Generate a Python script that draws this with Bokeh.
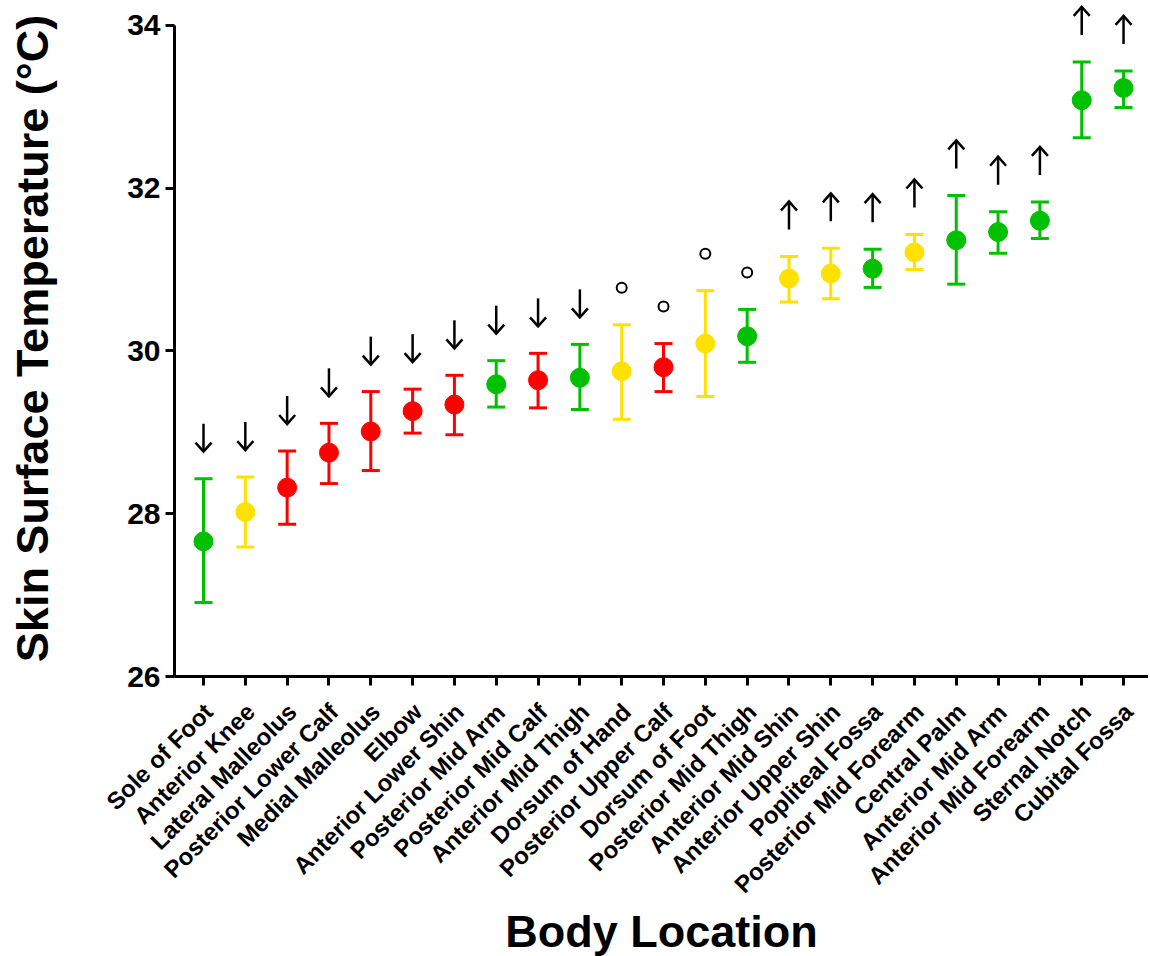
import math
from bokeh.plotting import figure
from bokeh.models import ColumnDataSource, Range1d, FixedTicker, LinearAxis
from bokeh.embed import file_html
from bokeh.resources import INLINE

# ---- data ----
names = ["Sole of Foot", "Anterior Knee", "Lateral Malleolus", "Posterior Lower Calf",
         "Medial Malleolus", "Elbow", "Anterior Lower Shin", "Posterior Mid Arm",
         "Posterior Mid Calf", "Anterior Mid Thigh", "Dorsum of Hand", "Posterior Upper Calf",
         "Dorsum of Foot", "Posterior Mid Thigh", "Anterior Mid Shin", "Anterior Upper Shin",
         "Popliteal Fossa", "Posterior Mid Forearm", "Central Palm", "Anterior Mid Arm",
         "Anterior Mid Forearm", "Sternal Notch", "Cubital Fossa"]
means = [27.66, 28.02, 28.32, 28.75, 29.01, 29.26, 29.34, 29.59, 29.64, 29.67, 29.75, 29.80,
         30.09, 30.18, 30.89, 30.95, 31.01, 31.21, 31.36, 31.46, 31.60, 33.08, 33.23]
upper = [28.43, 28.45, 28.77, 29.11, 29.50, 29.53, 29.70, 29.88, 29.97, 30.08, 30.32, 30.09,
         30.74, 30.51, 31.16, 31.26, 31.25, 31.43, 31.91, 31.71, 31.83, 33.55, 33.44]
lower = [26.91, 27.59, 27.87, 28.37, 28.53, 28.99, 28.97, 29.31, 29.30, 29.28, 29.16, 29.50,
         29.44, 29.86, 30.60, 30.64, 30.78, 31.00, 30.82, 31.20, 31.38, 32.62, 32.99]
groups = ["green", "yellow", "red", "red", "red", "red", "red", "green", "red", "green",
          "yellow", "red", "yellow", "green", "yellow", "yellow", "green", "yellow", "green",
          "green", "green", "green", "green"]
trend = ["down"] * 10 + ["circle"] * 4 + ["up"] * 9
y_ticks = [26, 28, 30, 32, 34]

# ---- styles ----
COLORS = {"green": "#00C000", "yellow": "#FFE100", "red": "#FF0000"}
FONT = "Liberation Sans"

ML = 174
FW, FH = 974, 676
PX_Y = 81.4
PX_X = 41.82
xs0 = -29.0 / PX_X
xs1 = xs0 + FW / PX_X
ys0 = 26
ys1 = ys0 + FH / PX_Y

CAP = 9.0      # half cap width px
GAP = 27.0     # gap between error bar top and arrow
LEN = 28.0     # arrow length px
HW = 8.0       # arrow head half width px
HH = 9.0       # arrow head height px
CIRC = 37.0    # circle offset px
LBL_DX = 5.0   # tick label shift px

xs = list(range(len(names)))
src = ColumnDataSource(dict(
    x=xs, mean=means, upper=upper, lower=lower,
    cl=[x - CAP / PX_X for x in xs], cr=[x + CAP / PX_X for x in xs],
    color=[COLORS[g] for g in groups],
))

p = figure(frame_width=FW, frame_height=FH, x_range=Range1d(xs0, xs1), y_range=Range1d(ys0, ys1),
           output_backend="svg", toolbar_location=None,
           min_border_left=ML, min_border_right=0, min_border_top=0, min_border_bottom=0)

# error bars
p.segment(x0="x", y0="lower", x1="x", y1="upper", line_color="color", line_width=3, source=src)
p.segment(x0="cl", y0="upper", x1="cr", y1="upper", line_color="color", line_width=3, source=src)
p.segment(x0="cl", y0="lower", x1="cr", y1="lower", line_color="color", line_width=3, source=src)
p.scatter(x="x", y="mean", size=19, fill_color="color", line_color="color", source=src)

# significance markers
sx0, sy0, sy1 = [], [], []
hxs, hys = [], []
cx, cy = [], []
for x, u, t in zip(xs, upper, trend):
    if t == "down":
        tip = u + GAP / PX_Y
        tail = tip + LEN / PX_Y
        sx0.append(x); sy0.append(tip); sy1.append(tail)
        hxs.append([x - HW / PX_X, x, x + HW / PX_X])
        hys.append([tip + HH / PX_Y, tip, tip + HH / PX_Y])
    elif t == "up":
        base = u + GAP / PX_Y
        tip = base + LEN / PX_Y
        sx0.append(x); sy0.append(base); sy1.append(tip)
        hxs.append([x - HW / PX_X, x, x + HW / PX_X])
        hys.append([tip - HH / PX_Y, tip, tip - HH / PX_Y])
    else:
        cx.append(x); cy.append(u + CIRC / PX_Y)

p.segment(x0=sx0, y0=sy0, x1=sx0, y1=sy1, line_color="black", line_width=2.5)
p.multi_line(xs=hxs, ys=hys, line_color="black", line_width=2.5, line_join="miter")
p.scatter(x=cx, y=cy, marker="circle", size=10, fill_color="white", line_color="black", line_width=2)

# axes
p.grid.visible = False
p.outline_line_color = None

# second x axis carrying the rotated labels (slightly shifted like the reference)
lab_ticks = [x + LBL_DX / PX_X for x in xs]
xlab = LinearAxis(ticker=FixedTicker(ticks=lab_ticks),
                  major_label_overrides={t: n for t, n in zip(lab_ticks, names)})
p.add_layout(xlab, "below")

for ax in (p.xaxis[0], p.yaxis[0], xlab):
    ax.axis_line_width = 3
    ax.major_tick_line_width = 3
    ax.major_tick_out = 9
    ax.major_tick_in = 0
    ax.minor_tick_line_color = None
    ax.axis_label_text_font = FONT
    ax.axis_label_text_font_style = "bold"
    ax.axis_label_text_font_size = "45px"
    ax.axis_label_text_color = "black"
    ax.major_label_text_font = FONT
    ax.major_label_text_font_style = "bold"
    ax.major_label_text_color = "black"

xa = p.xaxis[0]
xa.ticker = FixedTicker(ticks=xs)
xa.major_label_overrides = {i: "" for i in xs}
xa.major_label_text_font_size = "1px"
xa.major_label_standoff = 0

xlab.axis_line_color = None
xlab.major_tick_line_color = None
xlab.major_tick_out = 0
xlab.major_label_orientation = math.pi / 4
xlab.major_label_text_font_size = "24px"
xlab.major_label_standoff = 22
xlab.axis_label = "Body Location"
xlab.axis_label_standoff = -5

p.yaxis.ticker = FixedTicker(ticks=y_ticks)
p.yaxis.bounds = (26, 34)
p.yaxis.major_label_text_font_size = "30px"
p.yaxis.major_label_standoff = 5
p.yaxis.axis_label = "Skin Surface Temperature (°C)"
p.yaxis.axis_label_standoff = 66

open("out.html", "w").write(file_html(p, INLINE))
